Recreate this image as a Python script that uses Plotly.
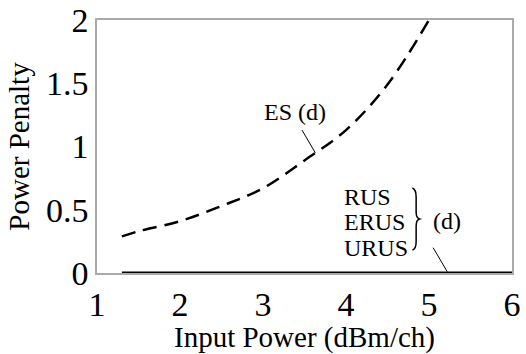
import plotly.graph_objects as go

# ES (d) curve
es_x = [1.3, 1.5, 2.0, 2.5, 3.0, 3.5, 4.0, 4.5, 5.0]
es_y = [0.29, 0.33, 0.41, 0.53, 0.67, 0.89, 1.13, 1.49, 2.0]

# RUS / ERUS / URUS (d) — zero penalty
rus_x = [1.3, 6.0]
rus_y = [0.0, 0.0]

x_ticks = [1, 2, 3, 4, 5, 6]
y_ticks = [0, 0.5, 1, 1.5, 2]
y_tick_text = ["0", "0.5", "1", "1.5", "2"]

FONT = "Liberation Serif, Times New Roman, serif"

fig = go.Figure()
fig.add_trace(go.Scatter(x=es_x, y=es_y, mode="lines",
                         line=dict(color="black", width=2.5, dash="14px,8px", shape="spline"),
                         showlegend=False))
fig.add_trace(go.Scatter(x=rus_x, y=rus_y, mode="lines", line=dict(color="black", width=3),
                         showlegend=False, cliponaxis=False))

ann_font = dict(family=FONT, size=24, color="black")
fig.add_annotation(x=3.39, y=1.27, text="ES (d)", showarrow=False, font=ann_font)
fig.add_shape(type="line", x0=3.47, y0=1.13, x1=3.63, y1=0.95, line=dict(color="black", width=1))

fig.add_annotation(x=3.95, y=0.60, text="RUS", showarrow=False, font=ann_font, xanchor="left")
fig.add_annotation(x=3.95, y=0.40, text="ERUS", showarrow=False, font=ann_font, xanchor="left")
fig.add_annotation(x=3.95, y=0.20, text="URUS", showarrow=False, font=ann_font, xanchor="left")
fig.add_annotation(x=5.22, y=0.41, text="(d)", showarrow=False, font=ann_font)
fig.add_shape(type="path",
              path="M 4.80,0.672 Q 4.845,0.66 4.845,0.60 L 4.845,0.48 Q 4.845,0.435 4.885,0.427 "
                   "Q 4.845,0.42 4.845,0.37 L 4.845,0.25 Q 4.845,0.19 4.80,0.182",
              line=dict(color="black", width=1.5))
fig.add_shape(type="line", x0=5.05, y0=0.20, x1=5.22, y1=0.01, line=dict(color="black", width=1))

fig.update_layout(
    width=526, height=354,
    margin=dict(l=97, r=14, t=20, b=81, autoexpand=False),
    plot_bgcolor="white", paper_bgcolor="white",
    font=dict(family=FONT, color="black"),
)
fig.update_xaxes(range=[1, 6], tickvals=x_ticks, showgrid=False, zeroline=False, automargin=False,
                 showline=True, mirror=True, linecolor="#aaaaaa", linewidth=1.5,
                 ticks="", ticklabeloverflow="allow", tickfont=dict(size=34, family=FONT),
                 title=dict(text="Input Power (dBm/ch)", font=dict(size=29, family=FONT), standoff=12))
fig.update_yaxes(range=[0, 2], tickvals=y_ticks, ticktext=y_tick_text, showgrid=False, zeroline=False,
                 automargin=False, ticklabeloverflow="allow",
                 showline=True, mirror=True, linecolor="#aaaaaa", linewidth=1.5,
                 ticks="", tickfont=dict(size=34, family=FONT),
                 title=dict(text="Power Penalty", font=dict(size=29, family=FONT), standoff=8))

# remove the default 8px body margin so the figure fills the window exactly
fig.write_html("out.html", config={"displayModeBar": False},
               post_script="document.body.style.margin='0';document.body.style.overflow='hidden';")
